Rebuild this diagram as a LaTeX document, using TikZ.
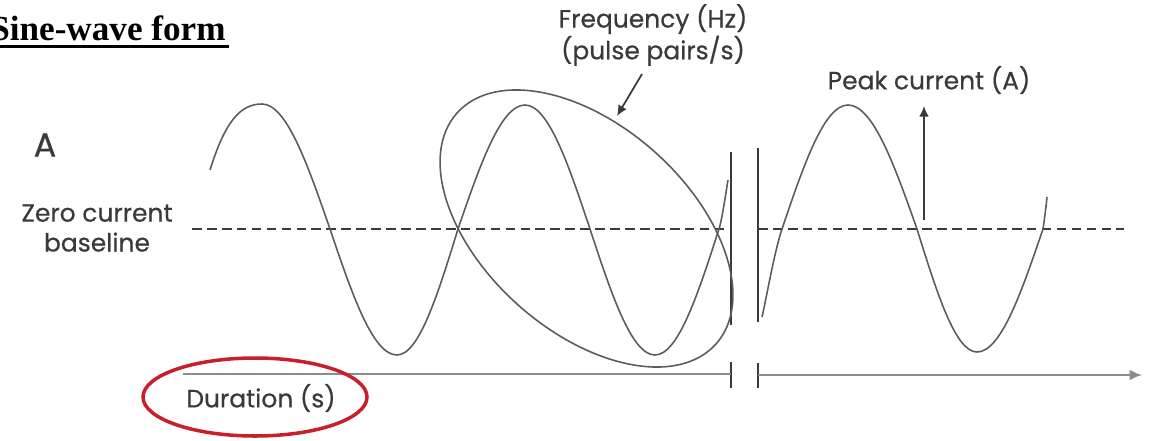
\documentclass[tikz,border=0pt]{standalone}
\usepackage{fontspec}
\setmainfont{Liberation Serif}
\newfontfamily\labelfont{Poppins}[FakeBold=0.5]
\usepackage{tikz}
\usetikzlibrary{arrows.meta}
\usepackage{xcolor}
\definecolor{ink}{HTML}{3A3A3A}
\definecolor{wavegrey}{HTML}{5C5C5C}
\definecolor{axisgrey}{HTML}{8C8C8C}
\definecolor{ringred}{HTML}{C8202A}

\begin{document}
\begin{tikzpicture}[
  x=0.02cm, y=-0.02cm,
  every node/.style={text=ink, font=\labelfont\fontsize{14.2}{17}\selectfont,
                     align=center, inner sep=0pt},
  wave/.style={draw=wavegrey, line width=0.9pt},
  zeroline/.style={draw=ink, line width=0.9pt, dash pattern=on 5.5pt off 3pt},
  breakbar/.style={draw=ink, line width=1pt},
  timeaxis/.style={draw=axisgrey, line width=1.1pt},
  pointer/.style={draw=ink, line width=1pt, -{Latex[length=6pt,width=5.5pt]}},
  freqring/.style={draw=wavegrey, line width=0.9pt},
  redring/.style={draw=ringred, line width=2pt},
]
  \useasboundingbox (0,0) rectangle (1155,440);

  % title
  \node[font=\bfseries\fontsize{20}{24}\selectfont, text=black, anchor=base west]
    (title) at (-10,40) {Sine-wave form};
  \draw[line width=1.7pt] ([yshift=-3.7pt]title.base west) -- ([yshift=-3.7pt,xshift=2pt]title.base east);

  % labels
  \node[font=\labelfont\fontsize{19}{19}\selectfont] (amp) at (45,145) {A};
  \node (zero) at (97,228) {Zero current\\baseline};
  \node (freqlbl) at (653,35) {Frequency (Hz)\\(pulse pairs/s)};
  \node (peaklbl) at (929,80) {Peak current (A)};
  \node (dur) at (261,398) {Duration (s)};

  % zero current baseline, broken
  \draw[zeroline] (192,229) -- (731,229);
  \draw[zeroline] (758,229) -- (1124,229);

  % break bars
  \draw[breakbar] (731,152) -- (731,325);
  \draw[breakbar] (758,148) -- (758,322);
  \draw[breakbar] (731,362) -- (731,388);
  \draw[breakbar] (758,363) -- (758,388);

  % time axis
  \coordinate (axstart) at (183,374);
  \coordinate (axend) at (1142,375);
  \draw[timeaxis] (axstart) -- (731,374);
  \draw[timeaxis, -{Latex[length=7pt,width=6pt]}] (758,375) -- (axend);

  % wave before the break
  \draw[wave] (210,170) .. controls (225,122) and (240,104) .. (262,104)
    .. controls (286.6,104) and (307.8,165) .. (330,229)
    .. controls (351.8,293.5) and (372.7,355) .. (397,355)
    .. controls (419.1,355) and (438.1,293.5) .. (458,229)
    .. controls (479.8,165.5) and (500.7,105) .. (525,105)
    .. controls (548.5,105) and (568.8,165.5) .. (590,229)
    .. controls (611.2,293.5) and (631.5,355) .. (655,355)
    .. controls (678.2,355) and (698.1,293.5) .. (719,229)
    .. controls (722,219.7) and (726,192) .. (728,180);

  % wave after the break
  \draw[wave] (762,317) .. controls (766,300) and (774.5,251) .. (782,229)
    .. controls (803.5,165.5) and (824.1,105) .. (848,105)
    .. controls (873,105) and (894.5,165.5) .. (917,229)
    .. controls (936.6,292) and (955.3,352) .. (977,352)
    .. controls (1000.9,352) and (1021.5,292) .. (1043,229)
    .. controls (1044.5,219) and (1046,207) .. (1047,197);

  % one cycle ringed
  \draw[freqring, rotate around={-41.7:(586.5,228.5)}]
    (586.5,228.5) ellipse [x radius=173.5, y radius=102.6];
  \coordinate (freqtail) at (642,74);
  \coordinate (freqtip) at (617,116);
  \draw[pointer] (freqtail) -- (freqtip);

  % peak current arrow
  \coordinate (peaktail) at (924,220);
  \coordinate (peaktip) at (924,106);
  \draw[pointer] (peaktail) -- (peaktip);

  % duration ring
  \coordinate (durc) at (255,397);
  \draw[redring] (durc) ellipse [x radius=112, y radius=39];
\end{tikzpicture}
\end{document}
